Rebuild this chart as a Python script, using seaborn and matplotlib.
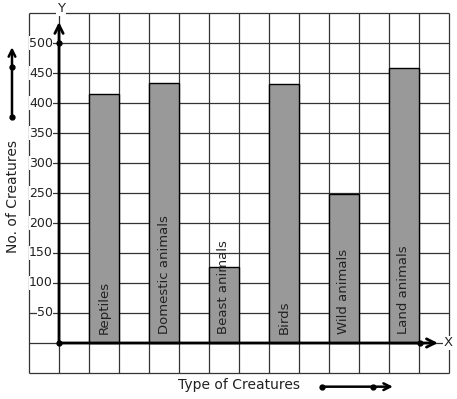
import matplotlib
matplotlib.use("Agg")
import matplotlib.pyplot as plt
import numpy as np
import pandas as pd
import seaborn as sns

# dados
categorias = ["Reptiles", "Domestic animals", "Beast animals", "Birds", "Wild animals", "Land animals"]
quantidades = [415, 433, 126, 431, 248, 458]
y_ticks = [50, 100, 150, 200, 250, 300, 350, 400, 450, 500]

sns.set_style("white")
plt.rcParams["font.family"] = ["DejaVu Sans"]

df = pd.DataFrame({"categoria": categorias, "qtd": quantidades})
# barras em colunas alternadas da grade (1 unidade = 1 quadrado)
df["pos"] = 1.5 + 2 * np.arange(len(df))

fig = plt.figure(figsize=(4.57, 3.99), dpi=100)
ax = fig.add_axes([0, 0, 1, 1])

# grade de fundo
gx = np.arange(-1, 14)
gy = np.arange(-50, 551, 50)
ax.vlines(gx, -50, 550, color="#333333", lw=0.9, zorder=0)
ax.hlines(gy, -1, 13, color="#333333", lw=0.9, zorder=0)

sns.barplot(data=df, x="pos", y="qtd", native_scale=True, width=0.5,
            color="#999999", edgecolor="black", linewidth=1, saturation=1,
            ax=ax, zorder=2)

for _, r in df.iterrows():
    ax.text(r["pos"], 15, r["categoria"], rotation=90, ha="center", va="bottom",
            fontsize=9.5, color="#222222", zorder=4)

# rotulos do eixo y
for v in y_ticks:
    ax.text(-0.2, v, str(v), ha="right", va="center", fontsize=9, color="#222222",
            bbox=dict(facecolor="white", edgecolor="none", pad=0.3), zorder=3)

# eixos com setas
ax.annotate("", xy=(0, 535), xytext=(0, 0),
            arrowprops=dict(arrowstyle="->", lw=2, color="black",
                            mutation_scale=15, shrinkA=0, shrinkB=0), zorder=5)
ax.annotate("", xy=(12.63, 0), xytext=(0, 0),
            arrowprops=dict(arrowstyle="->", lw=2, color="black",
                            mutation_scale=15, shrinkA=0, shrinkB=0), zorder=5)
ax.plot([0, 0, 12.03], [0, 500, 0], "o", color="black", ms=3.5, zorder=6)
ax.text(0.07, 557, "Y", ha="center", va="center", fontsize=9.5,
        bbox=dict(facecolor="white", edgecolor="none", pad=0.5), zorder=6)
ax.text(12.97, 0, "X", ha="center", va="center", fontsize=9.5,
        bbox=dict(facecolor="white", edgecolor="none", pad=0.5), zorder=6)

# titulos dos eixos e setas decorativas
ax.text(-1.55, 245, "No. of Creatures", rotation=90, ha="center", va="center",
        fontsize=10, color="#222222")
ax.text(6.0, -70, "Type of Creatures", ha="center", va="center",
        fontsize=10, color="#222222")
ax.annotate("", xy=(-1.567, 493), xytext=(-1.567, 377),
            arrowprops=dict(arrowstyle="->", lw=1.8, color="black",
                            mutation_scale=12, shrinkA=0, shrinkB=0))
ax.plot([-1.567, -1.567], [377, 460.5], "o", color="black", ms=3.5)
ax.annotate("", xy=(11.13, -72.8), xytext=(8.76, -72.8),
            arrowprops=dict(arrowstyle="->", lw=1.8, color="black",
                            mutation_scale=12, shrinkA=0, shrinkB=0))
ax.plot([8.76, 10.47], [-72.8, -72.8], "o", color="black", ms=3.5)

ax.set_xlim(-59 / 30, (457 - 59) / 30)
ax.set_ylim(-(399 - 343) / 0.6, 343 / 0.6)
ax.set_axis_off()

plt.savefig("out.png", dpi=100)
